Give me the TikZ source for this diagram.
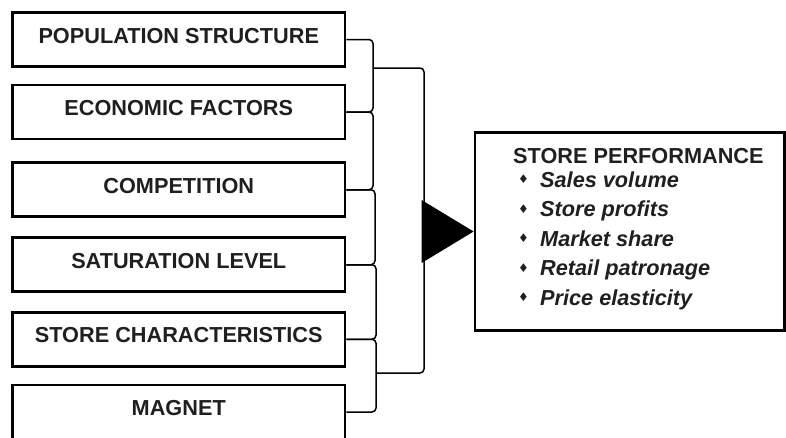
\documentclass[tikz,border=0pt]{standalone}
\usepackage{fontspec}
\setmainfont{Liberation Sans}
\newfontfamily\symfont{DejaVu Sans}
\newcommand{\bulmark}{\makebox[27pt][l]{\hspace*{5pt}\raisebox{3.3pt}{\fontsize{12}{12}\selectfont\symfont\upshape ♦}}}
\begin{document}
\begin{tikzpicture}[x=1pt,y=-1pt,
  factor/.style={draw=black, line width=2.8pt, minimum width=332.5pt, minimum height=54pt,
    inner sep=0pt, text height=15pt, text depth=8pt, text=black!88,
    font=\fontsize{21.7}{24}\selectfont\bfseries},
  brace/.style={line width=1.5pt, rounded corners=4pt},
  perfbox/.style={draw=black, line width=2.8pt, minimum width=309.5pt, minimum height=198.4pt, inner sep=0pt},
  head/.style={anchor=base west, inner sep=0pt, text=black!88, font=\fontsize{21.7}{24}\selectfont\bfseries},
  itemtext/.style={anchor=base west, inner sep=0pt, text=black!88, font=\fontsize{21.7}{24}\selectfont\bfseries\itshape}]
\useasboundingbox (0,0) rectangle (786,437);
\clip (0,0) rectangle (786,437);
% factor boxes
\node[factor] (p1) at (178.75,39.5) {POPULATION STRUCTURE};
\node[factor] (p2) at (178.75,112) {ECONOMIC FACTORS};
\node[factor] (p3) at (178.75,189.75) {COMPETITION};
\node[factor] (p4) at (178.75,264.75) {SATURATION LEVEL};
\node[factor] (p5) at (178.75,339.25) {STORE CHARACTERISTICS};
\node[factor] (p6) at (178.75,412) {MAGNET};
% small brackets
\draw[brace] (p1.east) -- (373,39.5) -- (373,112) -- (p2.east);
\draw[brace] (p2.east) -- (373,112) -- (373,189.75) -- (p3.east);
\draw[brace] (p3.east) -- (375,189.75) -- (375,264.75) -- (p4.east);
\draw[brace] (p4.east) -- (376,264.75) -- (376,339.25) -- (p5.east);
\draw[brace] (p5.east) -- (376,339.25) -- (376,412) -- (p6.east);
% big bracket
\coordinate (bt) at (373,68);
\coordinate (bb) at (376,373);
\draw[brace] (bt) -- (424,68) -- (424,373) -- (bb);
% performance box
\node[perfbox] (perf) at (629.75,231.5) {};
\fill[black] (perf.west) -- ++(-52,-31.5) -- ++(0,63) -- cycle;
\node[head] (h0) at (513,163) {STORE PERFORMANCE};
\node[itemtext] (i1) at (513,187) {\bulmark Sales volume};
\node[itemtext] (i2) at (513,216.5) {\bulmark Store profits};
\node[itemtext] (i3) at (513,246) {\bulmark Market share};
\node[itemtext] (i4) at (513,275.5) {\bulmark Retail patronage};
\node[itemtext] (i5) at (513,305) {\bulmark Price elasticity};
\end{tikzpicture}
\end{document}
